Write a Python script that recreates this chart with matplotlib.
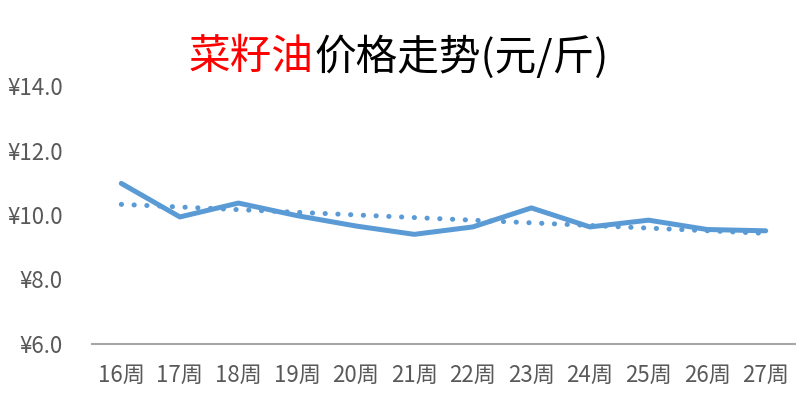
"""
Rapeseed oil weekly price chart.
"""

import matplotlib
matplotlib.use('Agg')
import matplotlib.pyplot as plt
from matplotlib.ticker import FuncFormatter

weeks = ['16周', '17周', '18周', '19周', '20周', '21周',
         '22周', '23周', '24周', '25周', '26周', '27周']
prices = [10.98, 9.94, 10.37, 9.98, 9.66, 9.40,
          9.63, 10.22, 9.63, 9.84, 9.55, 9.51]
# linear trend line endpoints
trend_start = 10.33
trend_end = 9.43

title_red = '菜籽油'
title_black = '价格走势(元/斤)'


def main():
    plt.rcParams['font.family'] = ['Noto Sans CJK SC', 'DejaVu Sans']

    fig = plt.figure(figsize=(7.98, 4.04), dpi=100)
    ax = fig.add_axes([92 / 798, 1 - 344 / 404, 703 / 798, 258 / 404])

    x = list(range(len(weeks)))
    ax.plot(x, prices, color='#5B9BD5', linewidth=3.6,
            solid_capstyle='round', solid_joinstyle='round', zorder=3)
    ax.plot([x[0], x[-1]], [trend_start, trend_end], color='#5B9BD5',
            linewidth=3.6, linestyle=(0, (0.05, 2.5)),
            dash_capstyle='round', zorder=2)

    ax.set_xlim(-0.5, len(weeks) - 0.5)
    ax.set_ylim(6, 14)
    ax.set_yticks([6, 8, 10, 12, 14])
    ax.yaxis.set_major_formatter(FuncFormatter(lambda v, p: '¥%.1f' % v))
    ax.set_xticks(x)
    ax.set_xticklabels(weeks)

    for side in ['top', 'right', 'left']:
        ax.spines[side].set_visible(False)
    ax.spines['bottom'].set_color('#A6A6A6')
    ax.spines['bottom'].set_linewidth(1.5)

    ax.tick_params(axis='both', length=0, labelsize=16, labelcolor='#595959')
    ax.tick_params(axis='x', pad=14)
    ax.tick_params(axis='y', pad=21)

    split = 314 / 798
    fig.text(split, 1 - 57 / 404, title_red, color='#FF0000', fontsize=30,
             ha='right', va='center')
    fig.text(split, 1 - 57 / 404, title_black, color='#000000', fontsize=30,
             ha='left', va='center')

    fig.savefig('out.png', dpi=100)


if __name__ == '__main__':
    main()
